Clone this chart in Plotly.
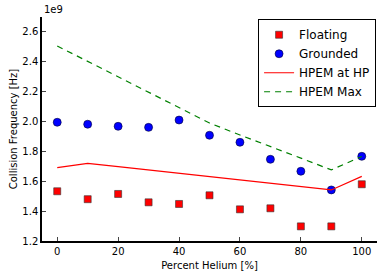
import plotly.graph_objects as go

helium = [0, 10, 20, 30, 40, 50, 60, 70, 80, 90, 100]
floating = [1.533e9, 1.480e9, 1.515e9, 1.459e9, 1.448e9, 1.506e9, 1.412e9, 1.419e9, 1.298e9, 1.298e9, 1.580e9]
grounded = [1.995e9, 1.982e9, 1.968e9, 1.961e9, 2.010e9, 1.908e9, 1.861e9, 1.747e9, 1.667e9, 1.542e9, 1.767e9]
hpem_hp = [1.691e9, 1.720e9, 1.698e9, 1.676e9, 1.654e9, 1.628e9, 1.608e9, 1.587e9, 1.565e9, 1.542e9, 1.633e9]
hpem_max = [2.506e9, 2.403e9, 2.300e9, 2.197e9, 2.094e9, 1.990e9, 1.910e9, 1.834e9, 1.755e9, 1.676e9, 1.766e9]

ytick_vals = [1.2e9, 1.4e9, 1.6e9, 1.8e9, 2.0e9, 2.2e9, 2.4e9, 2.6e9]
ytick_text = ["1.2", "1.4", "1.6", "1.8", "2.0", "2.2", "2.4", "2.6"]
xtick_vals = [0, 20, 40, 60, 80, 100]

fig = go.Figure()
fig.add_trace(go.Scatter(x=helium, y=floating, mode="markers", name="Floating",
                         marker=dict(symbol="square", size=7, color="#ff0000",
                                     line=dict(color="#333333", width=0.6))))
fig.add_trace(go.Scatter(x=helium, y=grounded, mode="markers", name="Grounded",
                         marker=dict(symbol="circle", size=8, color="#0000ff",
                                     line=dict(color="#000033", width=0.6))))
fig.add_trace(go.Scatter(x=helium, y=hpem_hp, mode="lines", name="HPEM at HP",
                         line=dict(color="#ff0000", width=1.2)))
fig.add_trace(go.Scatter(x=helium, y=hpem_max, mode="lines", name="HPEM Max",
                         line=dict(color="#008000", width=1.2, dash="6px,5px")))

fig.update_layout(
    width=384, height=277,
    margin=dict(l=42, r=7, t=17, b=36, autoexpand=False),
    plot_bgcolor="white", paper_bgcolor="white",
    font=dict(family="DejaVu Sans", size=10, color="black"),
    showlegend=True,
    legend=dict(x=0.645, y=0.99, xanchor="left", yanchor="top",
                bgcolor="white", bordercolor="black", borderwidth=1,
                font=dict(size=12), itemwidth=30, tracegroupgap=0),
    xaxis=dict(range=[-5, 105], tickvals=xtick_vals, ticks="inside", ticklen=4,
               showline=True, linecolor="black", linewidth=1.5, showgrid=False,
               zeroline=False, mirror=False, automargin=False,
               title=dict(text="Percent Helium [%]", font=dict(size=10), standoff=6)),
    yaxis=dict(range=[1.2e9, 2.7e9], tickvals=ytick_vals, ticktext=ytick_text,
               ticks="inside", ticklen=4, automargin=False,
               showline=True, linecolor="black", linewidth=1.5, showgrid=False,
               zeroline=False, mirror=False,
               title=dict(text="Collision Frequency [Hz]", font=dict(size=10), standoff=3)),
    annotations=[dict(text="1e9", xref="paper", yref="paper", x=0, y=1.0,
                      xanchor="left", yanchor="bottom", showarrow=False,
                      font=dict(size=10))],
)

fig.write_html("out.html", config={"displayModeBar": False},
               post_script="document.body.style.margin='0';document.body.style.padding='0';")
